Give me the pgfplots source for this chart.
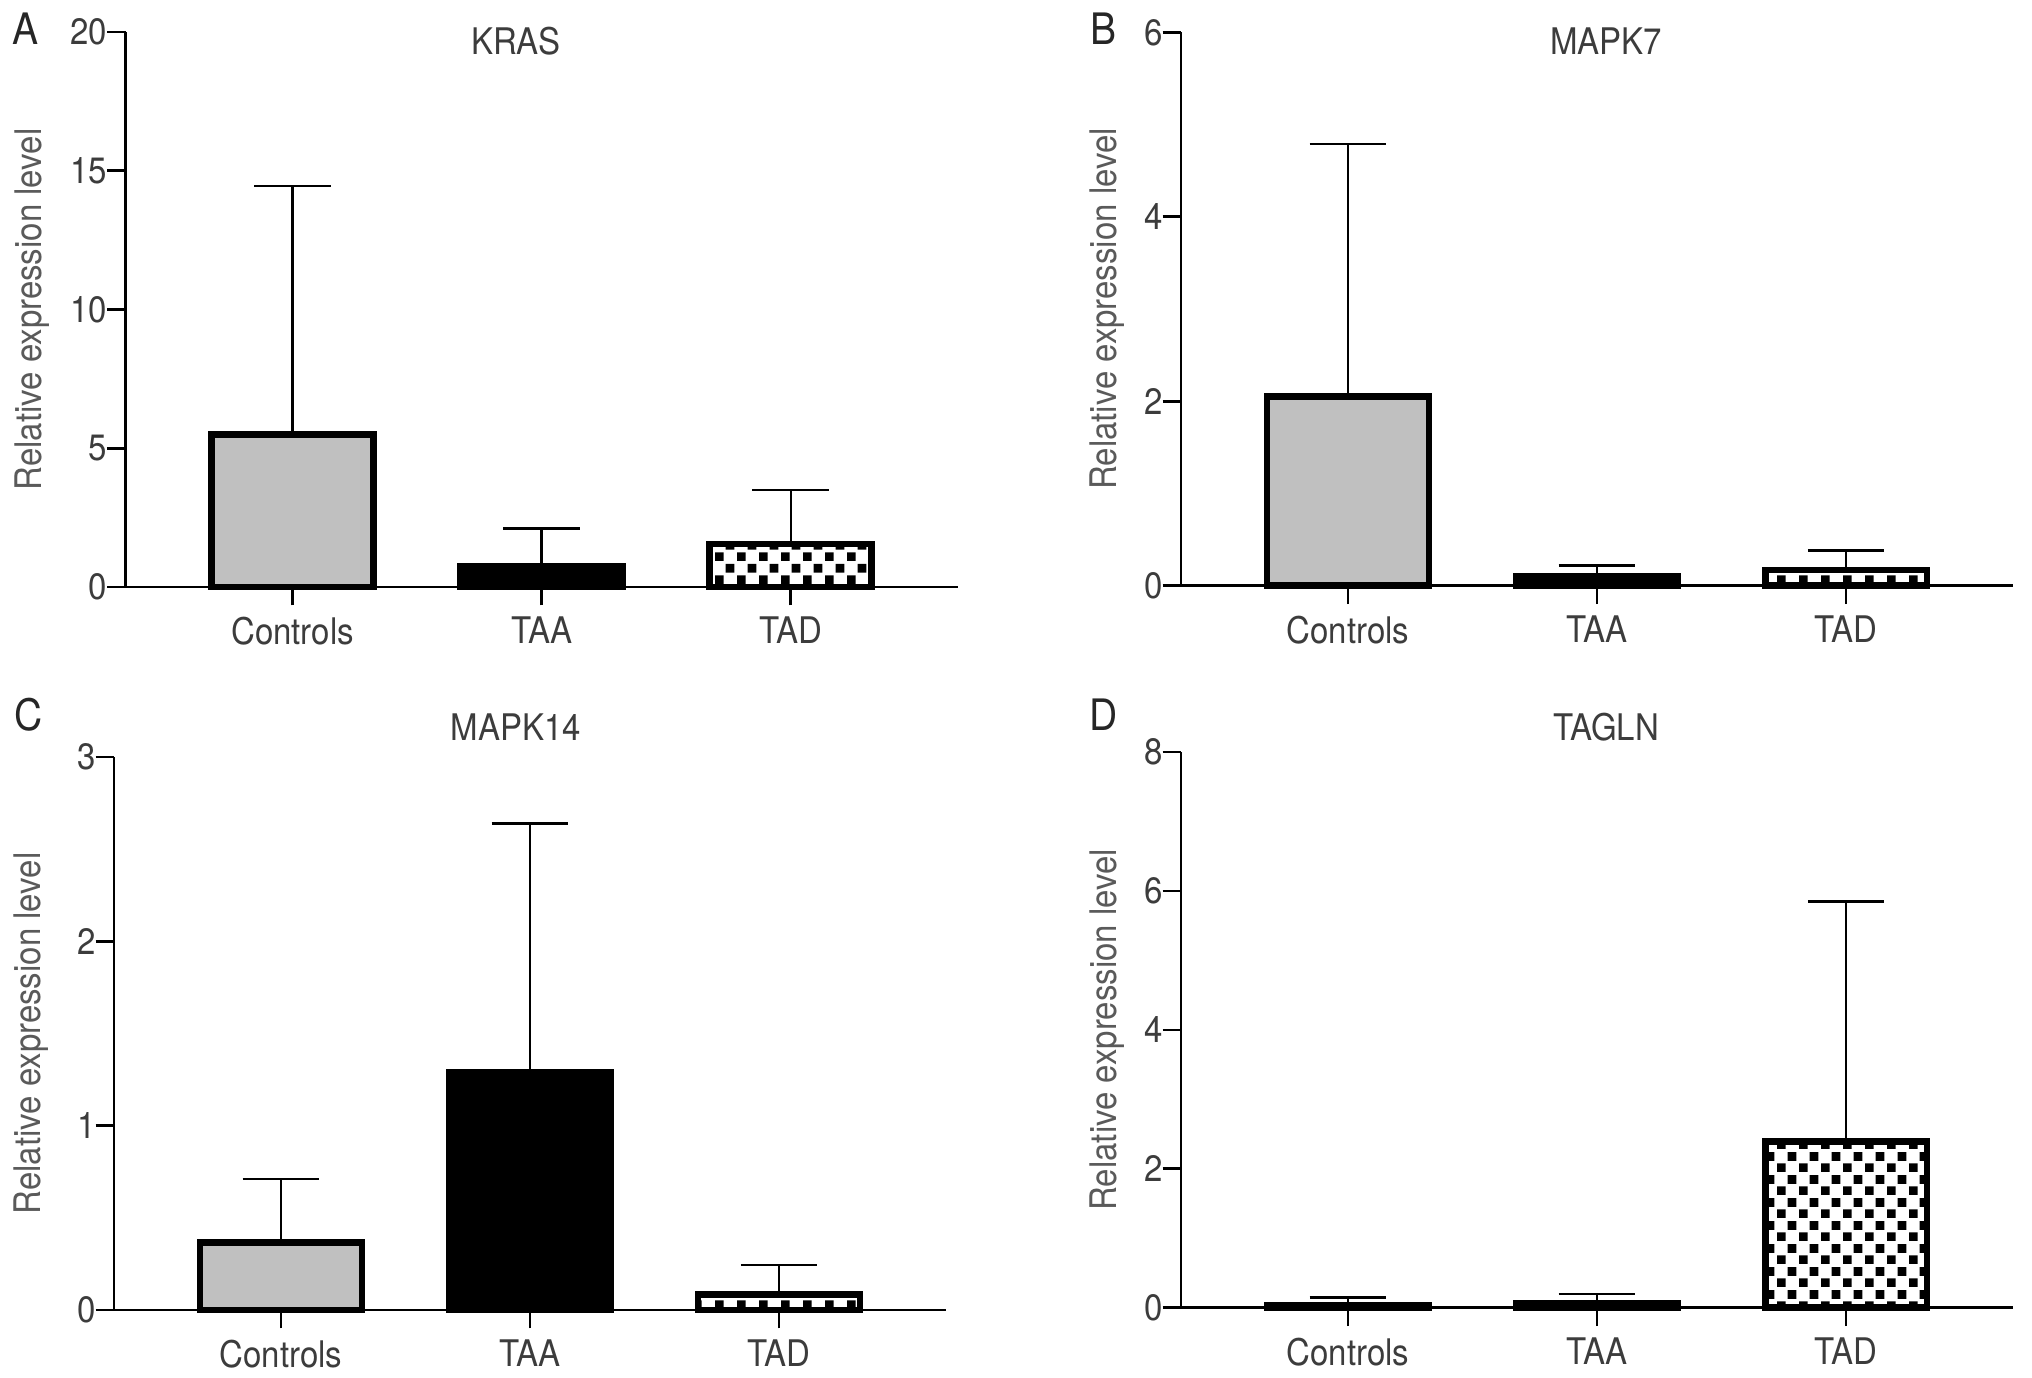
\documentclass[border=0pt]{standalone}
\usepackage{fontspec}
\setmainfont{TeX Gyre Heros}[FakeStretch=0.9]
\usepackage{pgfplots}
\pgfplotsset{compat=1.18}
\usetikzlibrary{patterns}

\definecolor{ctrlgray}{HTML}{C0C0C0}
\definecolor{tickgray}{HTML}{3C3C3C}
\definecolor{labgray}{HTML}{5A5A5A}

% staggered black squares, like the TAD fill
\pgfdeclarepatternformonly{cboard}{\pgfpointorigin}{\pgfqpoint{6.5pt}{6.8pt}}{\pgfqpoint{6.5pt}{6.8pt}}{%
  \pgfpathrectangle{\pgfpointorigin}{\pgfqpoint{2.6pt}{2.6pt}}%
  \pgfpathrectangle{\pgfqpoint{3.25pt}{3.4pt}}{\pgfqpoint{2.6pt}{2.6pt}}%
  \pgfusepath{fill}}

\pgfplotsset{
  panel/.style={
    anchor=south west, scale only axis,
    width=249.6pt, height=166.3pt,
    axis x line=bottom, axis y line=left,
    axis line style={-, line width=0.8pt},
    clip=false,
    xmin=-0.67, xmax=2.67,
    xtick={0,1,2}, xticklabels={Controls,TAA,TAD},
    xtick align=outside, ytick align=outside,
    major tick length=5.5pt,
    every tick/.style={line width=0.8pt, black},
    minor tick num=0,
    ymin=0,
    /pgf/number format/assume math mode=true,
    tick label style={font=\fontsize{11}{13}\selectfont, text=tickgray},
    yticklabel style={xshift=3.5pt},
    ylabel={Relative expression level},
    ylabel style={font=\fontsize{11}{13}\selectfont, text=labgray, anchor=center},
  },
  bars/.style={ybar, bar width=0.65, bar shift=0pt, draw=black, line width=2pt,
    error bars/y dir=plus, error bars/y explicit, error bars/error mark=|,
    error bars/error bar style={line width=0.75pt, black},
    error bars/error mark options={line width=0.75pt, black, mark size=11.5pt}},
  ctrl/.style={bars, fill=ctrlgray},
  taa/.style={bars, fill=black},
  tad/.style={bars, pattern=cboard},
}

\begin{document}
\begin{tikzpicture}
\useasboundingbox (0,0) rectangle (609.6pt,413.1pt);

% A  KRAS
\begin{axis}[panel, at={(37.7pt,237pt)}, height=166.5pt,
  ymax=20, ytick={0,5,10,15,20},
  ylabel style={at={(axis description cs:-0.112,0.5)}}]
\addplot[ctrl] coordinates {(0,5.5) +- (0,8.95)};
\addplot[taa] coordinates {(1,0.75) +- (0,1.35)};
\addplot[tad] coordinates {(2,1.55) +- (0,1.95)};
\end{axis}

% B  MAPK7
\begin{axis}[panel, at={(354.3pt,237.4pt)}, height=166pt,
  ymax=6, ytick={0,2,4,6},
  ylabel style={at={(axis description cs:-0.089,0.5)}}]
\addplot[ctrl] coordinates {(0,2.05) +- (0,2.74)};
\addplot[taa] coordinates {(1,0.1) +- (0,0.12)};
\addplot[tad] coordinates {(2,0.17) +- (0,0.21)};
\end{axis}

% C  MAPK14
\begin{axis}[panel, at={(34.2pt,20.1pt)}, height=165.9pt,
  ymax=3, ytick={0,1,2,3},
  ylabel style={at={(axis description cs:-0.100,0.5)}}]
\addplot[ctrl] coordinates {(0,0.365) +- (0,0.345)};
\addplot[taa] coordinates {(1,1.29) +- (0,1.35)};
\addplot[tad] coordinates {(2,0.085) +- (0,0.16)};
\end{axis}

% D  TAGLN
\begin{axis}[panel, at={(354.3pt,20.8pt)}, height=166.7pt,
  ymax=8, ytick={0,2,4,6,8},
  ylabel style={at={(axis description cs:-0.089,0.5)}}]
\addplot[ctrl] coordinates {(0,0.03) +- (0,0.12)};
\addplot[taa] coordinates {(1,0.06) +- (0,0.14)};
\addplot[tad] coordinates {(2,2.39) +- (0,3.46)};
\end{axis}

% panel titles and letters
\begin{scope}[every node/.style={font=\fontsize{11}{13}\selectfont, text=tickgray}]
\node at (154.8pt,400.7pt) {KRAS};
\node at (481.8pt,400.7pt) {MAPK7};
\node at (154.8pt,194.9pt) {MAPK14};
\node at (481.8pt,194.9pt) {TAGLN};
\end{scope}
\begin{scope}[every node/.style={font=\fontsize{13}{15}\selectfont, text=black!85}]
\node at (7.8pt,404.6pt) {A};
\node at (330.9pt,404.6pt) {B};
\node at (8.5pt,198.6pt) {C};
\node at (331.2pt,198.6pt) {D};
\end{scope}
\end{tikzpicture}
\end{document}
